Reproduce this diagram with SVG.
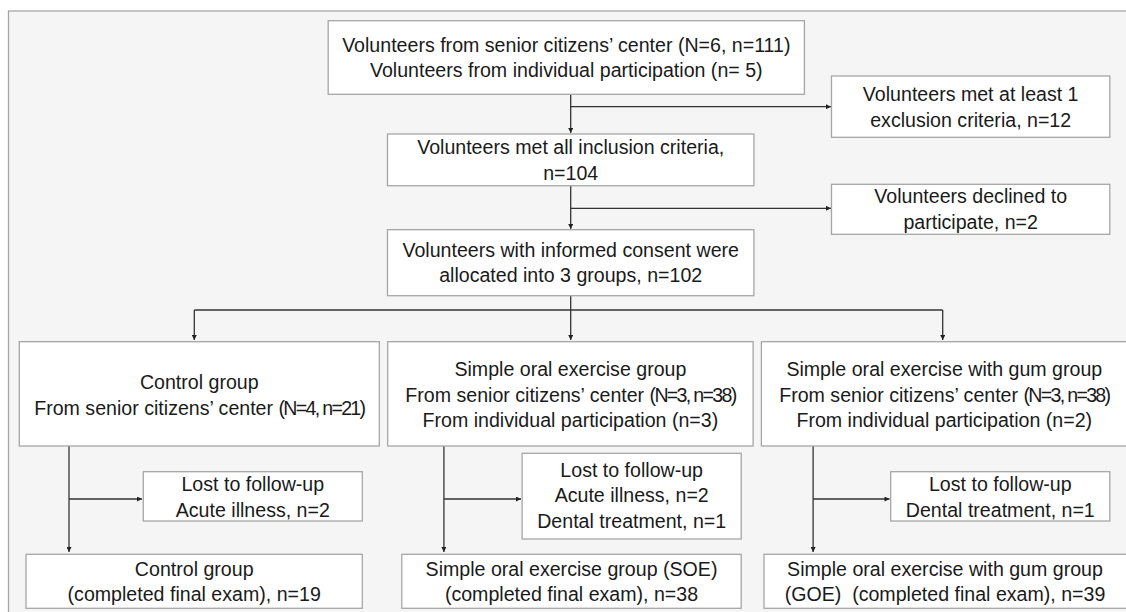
<svg xmlns="http://www.w3.org/2000/svg" width="1126" height="612" viewBox="0 0 1126 612">
<defs>
<marker id="ah" viewBox="0 0 10 10" refX="10" refY="5" markerWidth="6" markerHeight="5" orient="auto" markerUnits="userSpaceOnUse">
<path d="M0,0 L10,5 L0,10 z" fill="#222"/>
</marker>
<style>
.bx{fill:#fff;stroke:#a6a6a6;stroke-width:1.3}
.t{font-family:"Liberation Sans",Arial,sans-serif;font-size:19.6px;fill:#1a1a1a;text-anchor:middle}
.cn{letter-spacing:-1.7px}
.c{fill:none;stroke:#333;stroke-width:1.3}
.ca{fill:none;stroke:#333;stroke-width:1.3;marker-end:url(#ah)}
</style>
</defs>
<rect x="0" y="0" width="1126" height="612" fill="#fff"/>
<rect x="8.5" y="11" width="1130" height="610" fill="#f5f5f5" stroke="#a6a6a6" stroke-width="1.3"/>

<g id="connectors">
<line class="ca" x1="570.7" y1="94.3" x2="570.7" y2="133"/>
<line class="ca" x1="570.7" y1="106.7" x2="831" y2="106.7"/>
<line class="ca" x1="570.7" y1="185.7" x2="570.7" y2="229"/>
<line class="ca" x1="570.7" y1="208.3" x2="831" y2="208.3"/>
<line class="c" x1="570.7" y1="295.7" x2="570.7" y2="310"/>
<line class="c" x1="194.3" y1="310" x2="942.7" y2="310"/>
<line class="ca" x1="194.3" y1="310" x2="194.3" y2="340"/>
<line class="ca" x1="570.7" y1="310" x2="570.7" y2="340"/>
<line class="ca" x1="942.7" y1="310" x2="942.7" y2="340"/>
<line class="ca" x1="69" y1="446" x2="69" y2="552"/>
<line class="ca" x1="69" y1="499" x2="142" y2="499"/>
<line class="ca" x1="443.9" y1="446" x2="443.9" y2="552"/>
<line class="ca" x1="443.9" y1="499" x2="521" y2="499"/>
<line class="ca" x1="813.1" y1="446" x2="813.1" y2="552"/>
<line class="ca" x1="813.1" y1="499" x2="889.5" y2="499"/>
</g>

<g id="n_top">
<rect class="bx" x="328.2" y="20.7" width="476.2" height="73.6"/>
<text class="t" x="566.3" y="51.7">Volunteers from senior citizens’ center (N=6, n=111)</text>
<text class="t" x="566.3" y="76.7">Volunteers from individual participation (n= 5)</text>
</g>
<g id="n_excl">
<rect class="bx" x="831.5" y="76" width="278.3" height="61.3"/>
<text class="t" x="970.7" y="101">Volunteers met at least 1</text>
<text class="t" x="970.7" y="127">exclusion criteria, n=12</text>
</g>
<g id="n_incl">
<rect class="bx" x="387.5" y="134" width="366.4" height="51.7"/>
<text class="t" x="570.7" y="154">Volunteers met all inclusion criteria,</text>
<text class="t" x="570.7" y="180">n=104</text>
</g>
<g id="n_decl">
<rect class="bx" x="831.5" y="184.3" width="278.3" height="50"/>
<text class="t" x="970.7" y="203">Volunteers declined to</text>
<text class="t" x="970.7" y="229">participate, n=2</text>
</g>
<g id="n_alloc">
<rect class="bx" x="387.5" y="229.7" width="366.4" height="66"/>
<text class="t" x="570.7" y="256.7">Volunteers with informed consent were</text>
<text class="t" x="570.7" y="281.7">allocated into 3 groups, n=102</text>
</g>

<g id="n_ctrl">
<rect class="bx" x="19.3" y="341.7" width="360" height="104.3"/>
<text class="t" x="199.3" y="389.3">Control group</text>
<text class="t" x="199.3" y="415">From senior citizens’ center <tspan class="cn">(N=4, n=21)</tspan></text>
</g>
<g id="n_soe">
<rect class="bx" x="387.7" y="341.7" width="365.4" height="104.3"/>
<text class="t" x="570.4" y="376">Simple oral exercise group</text>
<text class="t" x="570.4" y="401.7">From senior citizens’ center <tspan class="cn">(N=3, n=38)</tspan></text>
<text class="t" x="570.4" y="427.3">From individual participation (n=3)</text>
</g>
<g id="n_goe">
<rect class="bx" x="761.4" y="341.7" width="380" height="104.3"/>
<text class="t" x="944.3" y="376">Simple oral exercise with gum group</text>
<text class="t" x="944.3" y="401.7">From senior citizens’ center <tspan class="cn">(N=3, n=38)</tspan></text>
<text class="t" x="944.3" y="427.3">From individual participation (n=2)</text>
</g>

<g id="n_lost_ctrl">
<rect class="bx" x="143.3" y="471.7" width="219" height="49.3"/>
<text class="t" x="252.8" y="491">Lost to follow-up</text>
<text class="t" x="252.8" y="516.7">Acute illness, n=2</text>
</g>
<g id="n_lost_soe">
<rect class="bx" x="522.1" y="453.3" width="219.1" height="85.7"/>
<text class="t" x="631.7" y="476.7">Lost to follow-up</text>
<text class="t" x="631.7" y="502.3">Acute illness, n=2</text>
<text class="t" x="631.7" y="527.7">Dental treatment, n=1</text>
</g>
<g id="n_lost_goe">
<rect class="bx" x="890.7" y="471.7" width="219.1" height="49.3"/>
<text class="t" x="1000.3" y="491">Lost to follow-up</text>
<text class="t" x="1000.3" y="516.7">Dental treatment, n=1</text>
</g>

<g id="n_fin_ctrl">
<rect class="bx" x="26" y="554.3" width="336.3" height="54"/>
<text class="t" x="194.2" y="576">Control group</text>
<text class="t" x="194.2" y="600.7">(completed final exam), n=19</text>
</g>
<g id="n_fin_soe">
<rect class="bx" x="401.8" y="554.3" width="339.4" height="54"/>
<text class="t" x="571.5" y="576">Simple oral exercise group (SOE)</text>
<text class="t" x="571.5" y="600.7">(completed final exam), n=38</text>
</g>
<g id="n_fin_goe">
<rect class="bx" x="764" y="554.3" width="380" height="54"/>
<text class="t" x="945" y="576">Simple oral exercise with gum group</text>
<text class="t" x="945" y="600.7">(GOE)&#160; (completed final exam), n=39</text>
</g>
</svg>
